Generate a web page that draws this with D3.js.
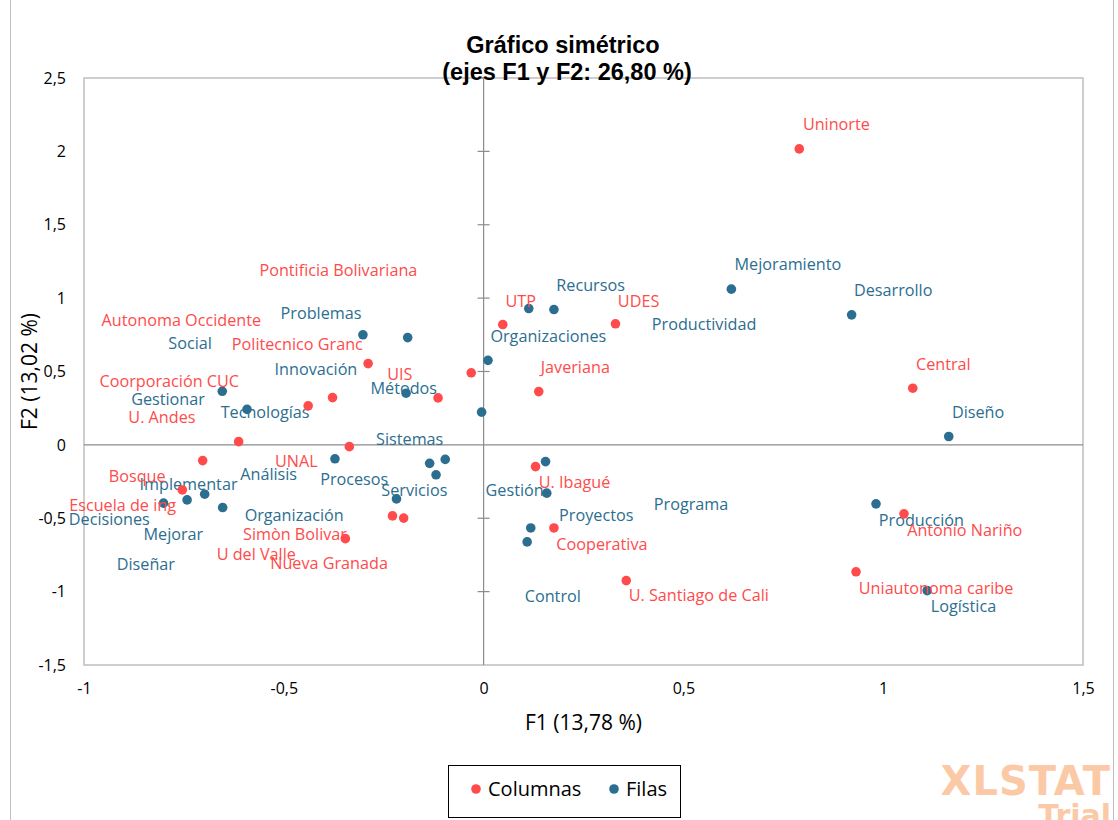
<!DOCTYPE html>
<html>
<head>
<meta charset="utf-8">
<script src="https://cdn.jsdelivr.net/npm/d3@7"></script>
<style>
  body { margin: 0; background: #fff; }
  svg { display: block; }
</style>
</head>
<body>
<div id="chart"></div>
<script>
// Columnas (universidades): coordenadas F1/F2 y posición de la etiqueta
const columnas = [
    { name: "Uninorte", x: 0.790, y: 2.017, lx: 0.799, ly: 2.185 },
    { name: "UTP", x: 0.048, y: 0.820, lx: 0.055, ly: 0.977 },
    { name: "UDES", x: 0.330, y: 0.825, lx: 0.336, ly: 0.981 },
    { name: "Javeriana", x: 0.138, y: 0.363, lx: 0.143, ly: 0.529 },
    { name: "Central", x: 1.074, y: 0.386, lx: 1.082, ly: 0.552 },
    { name: "UIS", x: -0.114, y: 0.320, lx: -0.241, ly: 0.484 },
    { name: "Pontificia Bolivariana", x: -0.031, y: 0.491, lx: -0.561, ly: 1.188 },
    { name: "Politecnico Granc", x: -0.289, y: 0.554, lx: -0.630, ly: 0.688 },
    { name: "Autonoma Occidente", x: -0.439, y: 0.266, lx: -0.956, ly: 0.847 },
    { name: "Coorporación CUC", x: -0.613, y: 0.022, lx: -0.961, ly: 0.431 },
    { name: "U. Andes", x: -0.378, y: 0.322, lx: -0.889, ly: 0.189 },
    { name: "UNAL", x: -0.336, y: -0.012, lx: -0.522, ly: -0.114 },
    { name: "Bosque", x: -0.703, y: -0.107, lx: -0.938, ly: -0.211 },
    { name: "Escuela de ing", x: -0.754, y: -0.307, lx: -1.037, ly: -0.409 },
    { name: "Simòn Bolivar", x: -0.346, y: -0.639, lx: -0.602, ly: -0.611 },
    { name: "U del Valle", x: -0.228, y: -0.484, lx: -0.668, ly: -0.745 },
    { name: "Nueva Granada", x: -0.200, y: -0.499, lx: -0.534, ly: -0.806 },
    { name: "U. Ibagué", x: 0.130, y: -0.148, lx: 0.138, ly: -0.254 },
    { name: "Cooperativa", x: 0.176, y: -0.566, lx: 0.182, ly: -0.677 },
    { name: "U. Santiago de Cali", x: 0.357, y: -0.925, lx: 0.363, ly: -1.027 },
    { name: "Antonio Nariño", x: 1.052, y: -0.470, lx: 1.060, ly: -0.584 },
    { name: "Uniautonoma caribe", x: 0.932, y: -0.865, lx: 0.939, ly: -0.977 }
];

// Filas (términos)
const filas = [
    { name: "Mejoramiento", x: 0.620, y: 1.061, lx: 0.628, ly: 1.227 },
    { name: "Desarrollo", x: 0.921, y: 0.886, lx: 0.927, ly: 1.056 },
    { name: "Diseño", x: 1.164, y: 0.057, lx: 1.172, ly: 0.225 },
    { name: "Producción", x: 0.982, y: -0.402, lx: 0.989, ly: -0.516 },
    { name: "Logística", x: 1.110, y: -0.993, lx: 1.119, ly: -1.102 },
    { name: "Recursos", x: 0.113, y: 0.929, lx: 0.182, ly: 1.086 },
    { name: "Productividad", x: 0.176, y: 0.922, lx: 0.421, ly: 0.822 },
    { name: "Organizaciones", x: 0.011, y: 0.576, lx: 0.017, ly: 0.738 },
    { name: "Programa", x: 0.155, y: -0.114, lx: 0.426, ly: -0.407 },
    { name: "Gestión", x: 0.158, y: -0.329, lx: 0.005, ly: -0.311 },
    { name: "Proyectos", x: 0.118, y: -0.566, lx: 0.189, ly: -0.482 },
    { name: "Control", x: 0.109, y: -0.661, lx: 0.103, ly: -1.034 },
    { name: "Problemas", x: -0.302, y: 0.750, lx: -0.508, ly: 0.897 },
    { name: "Innovación", x: -0.190, y: 0.731, lx: -0.523, ly: 0.518 },
    { name: "Métodos", x: -0.194, y: 0.352, lx: -0.283, ly: 0.386 },
    { name: "Sistemas", x: -0.096, y: -0.099, lx: -0.269, ly: 0.041 },
    { name: "Social", x: -0.654, y: 0.365, lx: -0.789, ly: 0.695 },
    { name: "Tecnologías", x: -0.592, y: 0.242, lx: -0.658, ly: 0.220 },
    { name: "Procesos", x: -0.372, y: -0.095, lx: -0.409, ly: -0.234 },
    { name: "Servicios", x: -0.218, y: -0.368, lx: -0.256, ly: -0.313 },
    { name: "Análisis", x: -0.135, y: -0.126, lx: -0.609, ly: -0.204 },
    { name: "Organización", x: -0.119, y: -0.204, lx: -0.598, ly: -0.479 },
    { name: "Gestionar", x: -0.005, y: 0.223, lx: -0.882, ly: 0.313 },
    { name: "Implementar", x: -0.698, y: -0.336, lx: -0.861, ly: -0.268 },
    { name: "Decisiones", x: -0.801, y: -0.397, lx: -1.038, ly: -0.506 },
    { name: "Mejorar", x: -0.742, y: -0.375, lx: -0.851, ly: -0.611 },
    { name: "Diseñar", x: -0.653, y: -0.427, lx: -0.918, ly: -0.813 }
];

const xTicks = [-1, -0.5, 0, 0.5, 1, 1.5];
const yTicks = [-1.5, -1, -0.5, 0, 0.5, 1, 1.5, 2, 2.5];

const width = 1118, height = 820;
const margin = { top: 78, right: 35, bottom: 155, left: 84 };
const red = "#FF4B4B", blue = "#2B6E8F";
const labelFont = "'Open Sans', 'Noto Sans', sans-serif";
const fmt = d => String(d).replace(".", ",");

const svg = d3.select("#chart").append("svg")
    .attr("width", width)
    .attr("height", height);

svg.append("rect")
    .attr("x", 10.5).attr("y", -1)
    .attr("width", 1103).attr("height", height + 2)
    .attr("fill", "#fff")
    .attr("stroke", "#BFBFBF");

const x = d3.scaleLinear().domain([-1, 1.5]).range([margin.left, width - margin.right]);
const y = d3.scaleLinear().domain([-1.5, 2.5]).range([height - margin.bottom, margin.top]);

// marco del área de trazado
svg.append("rect")
    .attr("x", x(-1)).attr("y", y(2.5))
    .attr("width", x(1.5) - x(-1)).attr("height", y(-1.5) - y(2.5))
    .attr("fill", "none")
    .attr("stroke", "#BFBFBF")
    .attr("stroke-width", 1.5);

// ejes a la izquierda y abajo (solo etiquetas)
const yAxis = svg.append("g")
    .attr("transform", `translate(${x(-1)},0)`)
    .call(d3.axisLeft(y).tickValues(yTicks).tickFormat(fmt).tickSize(0).tickPadding(18));
const xAxis = svg.append("g")
    .attr("transform", `translate(0,${y(-1.5)})`)
    .call(d3.axisBottom(x).tickValues(xTicks).tickFormat(fmt).tickSize(0).tickPadding(18));
[xAxis, yAxis].forEach(g => {
    g.select(".domain").remove();
    g.selectAll("text")
        .attr("fill", "#000")
        .style("font-family", labelFont)
        .style("font-size", "16px");
});

// ejes internos en el origen
svg.append("line")
    .attr("x1", x(-1)).attr("x2", x(1.5))
    .attr("y1", y(0)).attr("y2", y(0))
    .attr("stroke", "#8C8C8C").attr("stroke-width", 1.2);
svg.append("line")
    .attr("x1", x(0)).attr("x2", x(0))
    .attr("y1", y(2.5)).attr("y2", y(-1.5))
    .attr("stroke", "#8C8C8C").attr("stroke-width", 1.2);
svg.append("g")
    .selectAll("line")
    .data(yTicks.filter(d => d !== 0 && d !== -1.5))
    .enter().append("line")
    .attr("x1", x(0) - 6).attr("x2", x(0) + 6)
    .attr("y1", d => y(d)).attr("y2", d => y(d))
    .attr("stroke", "#8C8C8C").attr("stroke-width", 1.2);

// títulos
svg.append("text")
    .attr("x", 563).attr("y", 53)
    .attr("text-anchor", "middle")
    .style("font-family", "'Liberation Sans', Arial, sans-serif")
    .style("font-weight", "bold")
    .style("font-size", "23.5px")
    .text("Gráfico simétrico");
svg.append("text")
    .attr("x", 567).attr("y", 80)
    .attr("text-anchor", "middle")
    .style("font-family", "'Liberation Sans', Arial, sans-serif")
    .style("font-weight", "bold")
    .style("font-size", "23.5px")
    .text("(ejes F1 y F2: 26,80 %)");

svg.append("text")
    .attr("x", (x(-1) + x(1.5)) / 2).attr("y", 730)
    .attr("text-anchor", "middle")
    .style("font-family", labelFont)
    .style("font-size", "21px")
    .text("F1 (13,78 %)");
svg.append("text")
    .attr("transform", `translate(37,${(y(2.5) + y(-1.5)) / 2}) rotate(-90)`)
    .attr("text-anchor", "middle")
    .style("font-family", labelFont)
    .style("font-size", "21px")
    .text("F2 (13,02 %)");

// series
function drawSeries(data, color) {
    const g = svg.append("g");
    g.selectAll("circle")
        .data(data)
        .enter().append("circle")
        .attr("cx", d => x(d.x))
        .attr("cy", d => y(d.y))
        .attr("r", 4.8)
        .attr("fill", color);
    g.selectAll("text")
        .data(data)
        .enter().append("text")
        .attr("x", d => x(d.lx))
        .attr("y", d => y(d.ly))
        .attr("dy", "0.35em")
        .attr("fill", color)
        .style("font-family", labelFont)
        .style("font-size", "16.2px")
        .text(d => d.name);
}
drawSeries(filas, blue);
drawSeries(columnas, red);

// leyenda
const legend = svg.append("g");
legend.append("rect")
    .attr("x", 448.5).attr("y", 765.5)
    .attr("width", 232).attr("height", 52)
    .attr("fill", "#fff")
    .attr("stroke", "#000");
const legendItems = [
    { name: "Columnas", color: red, cx: 476 },
    { name: "Filas", color: blue, cx: 614 }
];
legendItems.forEach(it => {
    legend.append("circle")
        .attr("cx", it.cx).attr("cy", 789).attr("r", 4.8)
        .attr("fill", it.color);
    legend.append("text")
        .attr("x", it.cx + 12).attr("y", 789)
        .attr("dy", "0.35em")
        .style("font-family", labelFont)
        .style("font-size", "20px")
        .text(it.name);
});

// marca de agua
svg.append("text")
    .attr("x", 1111).attr("y", 795)
    .attr("text-anchor", "end")
    .attr("fill", "#FCC9A6")
    .style("font-family", "'DejaVu Sans', sans-serif")
    .style("font-weight", "bold")
    .style("font-size", "40px")
    .style("letter-spacing", "1px")
    .text("XLSTAT");
svg.append("text")
    .attr("x", 1111).attr("y", 826)
    .attr("text-anchor", "end")
    .attr("fill", "#FCC9A6")
    .style("font-family", "'DejaVu Sans', sans-serif")
    .style("font-weight", "bold")
    .style("font-size", "30px")
    .text("Trial");
</script>
</body>
</html>
